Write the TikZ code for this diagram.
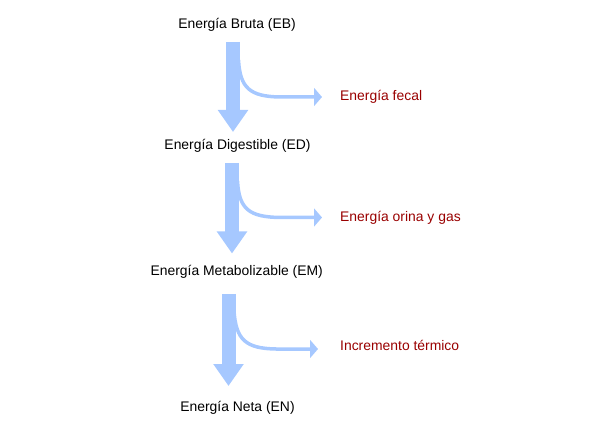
\documentclass[tikz,border=0pt]{standalone}
\usepackage{fontspec}
\setmainfont{Liberation Sans}
\usetikzlibrary{arrows.meta}
\definecolor{flow}{HTML}{A6C8FF}
\definecolor{loss}{HTML}{990000}
\begin{document}
\begin{tikzpicture}[x=1pt,y=-1pt,
  lbl/.style={font=\fontsize{13.9}{16}\selectfont, inner sep=0pt, anchor=center},
  losslbl/.style={font=\fontsize{13.9}{16}\selectfont, inner sep=0pt, anchor=west, text=loss},
  bigarrow/.style={draw=flow, line width=14pt, -{Triangle[length=22pt,width=29pt,fill=flow]}},
  branch/.style={draw=flow, line width=3.5pt, -{Triangle[length=8pt,width=18pt,fill=flow]}}]
\useasboundingbox (0,0) rectangle (610,435);
\node[lbl] (eb) at (237,25) {Energía Bruta (EB)};
\node[lbl] (ed) at (237.5,145.5) {Energía Digestible (ED)};
\node[lbl] (em) at (236.7,271.5) {Energía Metabolizable (EM)};
\node[lbl] (en) at (237.5,407.5) {Energía Neta (EN)};
\node[losslbl] (l1) at (340,97) {Energía fecal};
\node[losslbl] (l2) at (340,218) {Energía orina y gas};
\node[losslbl] (l3) at (340,345) {Incremento térmico};
% main flow
\coordinate (a1s) at (233,42);   \coordinate (a1e) at (233,132);
\coordinate (a2s) at (232,163);  \coordinate (a2e) at (232,253.5);
\coordinate (a3s) at (228.5,294); \coordinate (a3e) at (228.5,386);
\draw[bigarrow] (a1s) -- (a1e);
\draw[bigarrow] (a2s) -- (a2e);
\draw[bigarrow] (a3s) -- (a3e);
% branches
\coordinate (b1s) at (238.5,60);  \coordinate (b1e) at (322,97);
\coordinate (b2s) at (237.5,181); \coordinate (b2e) at (322,217.5);
\coordinate (b3s) at (234,311);   \coordinate (b3e) at (318,349);
\draw[branch] (b1s) .. controls (240,88) and (250,96.5) .. (280,97) -- (b1e);
\draw[branch] (b2s) .. controls (239,209) and (249,217) .. (280,217.5) -- (b2e);
\draw[branch] (b3s) .. controls (236,340) and (246,348.5) .. (276,349) -- (b3e);
\end{tikzpicture}
\end{document}
